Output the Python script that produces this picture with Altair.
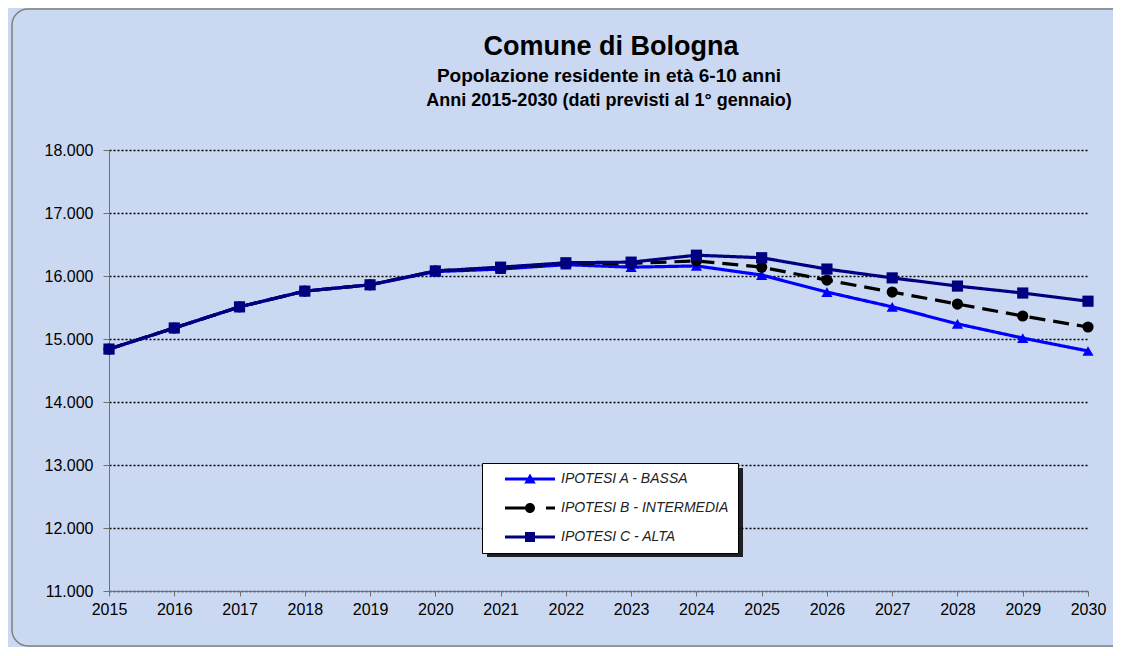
import altair as alt
import pandas as pd

years = list(range(2015, 2031))
ipotesi_a = [14840, 15175, 15510, 15760, 15860, 16070, 16110, 16180, 16140, 16160, 16015, 15745, 15510, 15240, 15015, 14810]
ipotesi_b = [14840, 15175, 15510, 15760, 15860, 16080, 16130, 16200, 16200, 16240, 16140, 15935, 15745, 15555, 15365, 15190]
ipotesi_c = [14840, 15175, 15510, 15760, 15860, 16080, 16140, 16210, 16220, 16330, 16290, 16110, 15970, 15840, 15730, 15600]
series = ["IPOTESI A - BASSA", "IPOTESI B - INTERMEDIA", "IPOTESI C - ALTA"]
colors = ["#0000ff", "#000000", "#000080"]
shapes = ["triangle-up", "circle", "square"]
dashes = [[1, 0], [16, 8], [1, 0]]
y_ticks = [11000, 12000, 13000, 14000, 15000, 16000, 17000, 18000]
title_lines = ["Comune di Bologna",
               "Popolazione residente in età 6-10 anni",
               "Anni 2015-2030 (dati previsti al 1° gennaio)"]

# legend glyphs: line with marker (custom symbol paths, unit = sqrt(symbolSize)/2 px)
legend_glyphs = [
    "M-5,-0.3H5V0.3H-5Z M0,-1.1L1.15,0.9H-1.15Z",
    "M-5,-0.3H0V0.3H-5Z M1,0A1,1 0 1,1 -1,0A1,1 0 1,1 1,0Z M3.2,-0.3H5V0.3H3.2Z",
    "M-5,-0.3H5V0.3H-5Z M-1,-1H1V1H-1Z",
]

rows = []
for name, vals in zip(series, [ipotesi_a, ipotesi_b, ipotesi_c]):
    for yr, v in zip(years, vals):
        rows.append({"anno": yr, "valore": v, "serie": name})
df = pd.DataFrame(rows)

x = alt.X("anno:Q",
          scale=alt.Scale(domain=[2015, 2030], nice=False, zero=False),
          axis=alt.Axis(values=years, format="d", title=None, grid=False,
                        labelFlush=False, labelOverlap=False,
                        labelFontSize=16, labelColor="#000", labelPadding=5,
                        domainColor="#707070", tickColor="#707070", tickSize=5,
                        labelFont="Arial"))
y = alt.Y("valore:Q",
          scale=alt.Scale(domain=[11000, 18000], nice=False, zero=False),
          axis=alt.Axis(values=y_ticks, title=None, grid=True,
                        labelExpr="replace(format(datum.value, ','), ',', '.')",
                        gridColor="#000", gridDash=[2, 2], gridWidth=1.3,
                        labelFontSize=16, labelColor="#000", labelPadding=10,
                        labelFlush=False,
                        domainColor="#707070", tickColor="#707070", tickSize=6,
                        labelFont="Arial"))
color_nolegend = alt.Color("serie:N", scale=alt.Scale(domain=series, range=colors), legend=None)

lines = alt.Chart(df).mark_line(strokeWidth=3.2).encode(
    x=x, y=y, color=color_nolegend,
    strokeDash=alt.StrokeDash("serie:N", scale=alt.Scale(domain=series, range=dashes), legend=None),
)
points = alt.Chart(df).mark_point(filled=True, opacity=1, size=125).encode(
    x=x, y=y, color=color_nolegend,
    shape=alt.Shape("serie:N", scale=alt.Scale(domain=series, range=shapes), legend=None),
)
legend_layer = alt.Chart(df).transform_filter("false").mark_point(filled=True, opacity=1).encode(
    x=x, y=y,
    color=alt.Color("serie:N", scale=alt.Scale(domain=series, range=colors), title=None),
    shape=alt.Shape("serie:N", scale=alt.Scale(domain=series, range=legend_glyphs), title=None),
)

frame = alt.Chart(pd.DataFrame({"k": [0]})).mark_rect(
    filled=False, stroke="#808080", strokeWidth=1.5, cornerRadius=16
).encode(x=alt.value(-97), x2=alt.value(1100), y=alt.value(-141), y2=alt.value(496))

shadow = alt.Chart(pd.DataFrame({"k": [0]})).mark_rect(color="#000", opacity=0.85).encode(
    x=alt.value(378), x2=alt.value(634), y=alt.value(318), y2=alt.value(407))

t_df = pd.DataFrame({"t": title_lines, "i": [0, 1, 2]})
title1 = alt.Chart(t_df).transform_filter("datum.i == 0").mark_text(
    font="Arial", fontSize=27, fontWeight="bold", color="#000", align="center", baseline="alphabetic"
).encode(text="t:N", x=alt.value(502), y=alt.value(-95))
title2 = alt.Chart(t_df).transform_filter("datum.i == 1").mark_text(
    font="Arial", fontSize=19, fontWeight="bold", color="#000", align="center", baseline="alphabetic"
).encode(text="t:N", x=alt.value(500), y=alt.value(-68))
title3 = alt.Chart(t_df).transform_filter("datum.i == 2").mark_text(
    font="Arial", fontSize=18, fontWeight="bold", color="#000", align="center", baseline="alphabetic"
).encode(text="t:N", x=alt.value(500), y=alt.value(-44))

chart = alt.layer(frame, title1, title2, title3, shadow, lines, points, legend_layer).resolve_scale(
    color="independent", shape="independent", strokeDash="independent"
).properties(
    width=979, height=441,
    background="#cbd8f1",
    autosize=alt.AutoSizeParams(type="none"),
    padding={"left": 101, "top": 142, "right": 25, "bottom": 56},
).configure_view(stroke=None).configure_legend(
    orient="none", legendX=373, legendY=313,
    fillColor="white", strokeColor="#000", strokeWidth=1,
    padding=9, rowPadding=15, symbolOffset=32, labelOffset=24,
    labelFont="Arial", labelFontStyle="italic", labelFontSize=14, labelColor="#222",
    symbolSize=100, symbolStrokeWidth=0, labelLimit=400,
)

chart.save("out.html", embed_options={"renderer": "svg", "actions": False})
